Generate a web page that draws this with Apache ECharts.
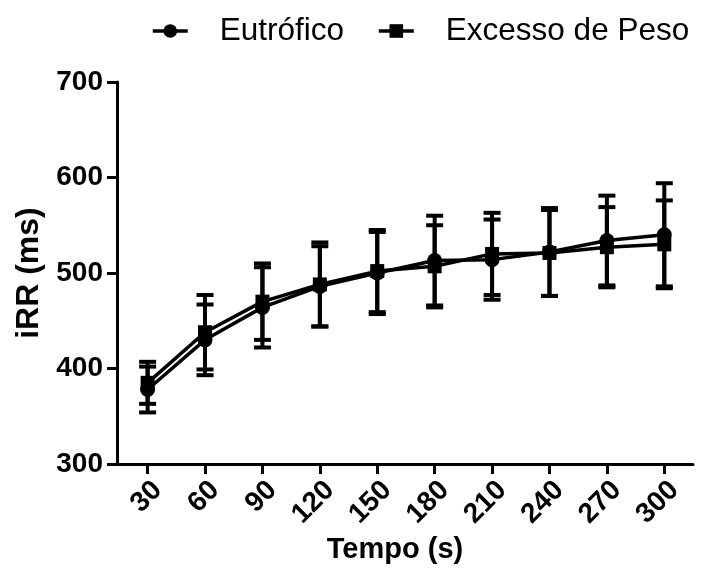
<!DOCTYPE html>
<html>
<head>
<meta charset="utf-8">
<script src="https://cdn.jsdelivr.net/npm/echarts@6/dist/echarts.min.js"></script>
<style>html,body{margin:0;padding:0;background:#fff}#c{width:703px;height:581px}</style>
</head>
<body>
<div id="c"></div>
<script>
const tempo = [30, 60, 90, 120, 150, 180, 210, 240, 270, 300];
const eutMean = [378, 430, 464, 486, 500, 513, 514, 522, 534, 540];
const eutSD   = [24, 37, 42, 42, 43, 47, 42, 46, 47, 54];
const excMean = [385, 438, 470, 488, 502, 507, 520, 521, 527, 530];
const excSD   = [22, 39, 40, 44, 43, 43, 43, 45, 42, 46];
const yTicks = [300, 400, 500, 600, 700];

const FONT = "'Liberation Sans', Arial, sans-serif";

function pts(means) { return tempo.map((t, i) => [t, means[i]]); }
function errs(means, sds) { return tempo.map((t, i) => [t, means[i] - sds[i], means[i] + sds[i]]); }

function errRender(params, api) {
  const x = api.value(0);
  const lo = api.coord([x, api.value(1)]);
  const hi = api.coord([x, api.value(2)]);
  const hw = 8.5;
  const st = { stroke: '#000', lineWidth: 4 };
  return {
    type: 'group',
    children: [
      { type: 'line', shape: { x1: lo[0], y1: lo[1], x2: hi[0], y2: hi[1] }, style: st },
      { type: 'line', shape: { x1: lo[0] - hw, y1: lo[1], x2: lo[0] + hw, y2: lo[1] }, style: st },
      { type: 'line', shape: { x1: hi[0] - hw, y1: hi[1], x2: hi[0] + hw, y2: hi[1] }, style: st }
    ]
  };
}

const chart = echarts.init(document.getElementById('c'));
chart.setOption({
  animation: false,
  backgroundColor: '#fff',
  legend: {
    data: ['Eutrófico', 'Excesso de Peso'],
    left: 146, top: 10,
    itemWidth: 35, itemHeight: 17, itemGap: 33,
    lineStyle: { width: 3.5 },
    textStyle: { fontFamily: FONT, fontSize: 31.5, color: '#000', padding: [0, 0, 0, 27] }
  },
  grid: { left: 117, right: 10, top: 82, bottom: 117, containLabel: false },
  xAxis: {
    type: 'value', min: 14, max: 315,
    name: 'Tempo (s)', nameLocation: 'middle', nameGap: 71,
    nameTextStyle: { fontFamily: FONT, fontSize: 29, fontWeight: 'bold', color: '#000', padding: [0, 20, 0, 0] },
    axisLine: { onZero: false, lineStyle: { color: '#000', width: 3 } },
    axisTick: { show: true, length: 10, customValues: tempo, lineStyle: { color: '#000', width: 3 } },
    axisLabel: { customValues: tempo, rotate: 45, margin: 12, verticalAlign: 'top', fontFamily: FONT, fontSize: 28, fontWeight: 'bold', color: '#000' },
    splitLine: { show: false }
  },
  yAxis: {
    type: 'value', min: 300, max: 700, interval: 100,
    name: 'iRR (ms)', nameLocation: 'middle', nameGap: 70, nameRotate: 90,
    nameTextStyle: { fontFamily: FONT, fontSize: 32, fontWeight: 'bold', color: '#000' },
    axisLine: { show: true, lineStyle: { color: '#000', width: 3 } },
    axisTick: { show: true, length: 10, customValues: yTicks, lineStyle: { color: '#000', width: 3 } },
    axisLabel: { customValues: yTicks, margin: 14, fontFamily: FONT, fontSize: 28, fontWeight: 'bold', color: '#000' },
    splitLine: { show: false }
  },
  series: [
    { name: 'errEut', type: 'custom', renderItem: errRender, data: errs(eutMean, eutSD), encode: { x: 0, y: [1, 2] }, z: 1 },
    { name: 'errExc', type: 'custom', renderItem: errRender, data: errs(excMean, excSD), encode: { x: 0, y: [1, 2] }, z: 1 },
    { name: 'Eutrófico', type: 'line', data: pts(eutMean), symbol: 'circle', symbolSize: 15,
      lineStyle: { color: '#000', width: 3.5 }, itemStyle: { color: '#000' }, z: 3 },
    { name: 'Excesso de Peso', type: 'line', data: pts(excMean), symbol: 'rect', symbolSize: 14,
      lineStyle: { color: '#000', width: 3.5 }, itemStyle: { color: '#000' }, z: 3 }
  ]
});
</script>
</body>
</html>
